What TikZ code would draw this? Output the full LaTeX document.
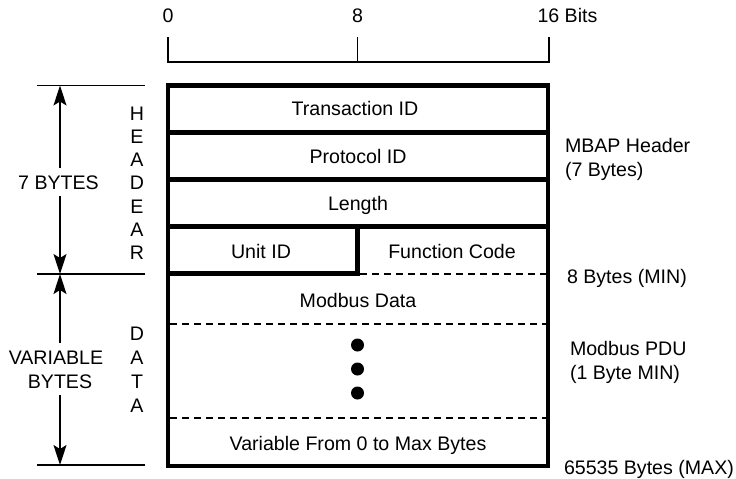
\documentclass[tikz,border=0pt]{standalone}
\usepackage{fontspec}
\setmainfont{Liberation Sans}
\usetikzlibrary{arrows.meta}
\begin{document}
\begin{tikzpicture}[x=1pt,y=-1pt,
  font=\fontsize{19.6}{23}\selectfont,
  lbl/.style={inner sep=0pt, outer sep=0pt, text height=14pt, text depth=0pt},
  heavy/.style={line width=4.5pt, line join=miter},
  hair/.style={line width=1.3pt},
  dashline/.style={line width=1.3pt, dash pattern=on 7pt off 5pt},
  dimarrow/.style={line width=1.3pt, shorten <=7pt, -{Stealth[length=20pt,width=13pt,inset=4pt]}}]
\useasboundingbox (0,0) rectangle (736,479);

% bit ruler
\draw[hair] (168,37) -- (168,62) -- (549,62) -- (549,37);
\draw[hair] (357.5,37) -- (357.5,62);
\node[lbl] (b0) at (168,15) {0};
\node[lbl] (b8) at (357.5,15) {8};
\node[lbl, anchor=west] (b16) at (537.5,15) {16 Bits};

% frame
\draw[heavy] (168,85.5) rectangle (548,466);
\draw[heavy] (168,132.5) -- (548,132.5);
\draw[heavy] (168,179.5) -- (548,179.5);
\draw[heavy] (168,226.5) -- (548,226.5);
\draw[heavy] (168,273.5) -- (357.5,273.5) -- (357.5,226.5);
\draw[dashline] (359.75,274) -- (545.75,274);
\draw[dashline] (170.25,324) -- (545.75,324);
\draw[dashline] (170.25,418) -- (545.75,418);

% field labels
\node[lbl] (tid) at (355,108.5) {Transaction ID};
\node[lbl] (pid) at (358,156) {Protocol ID};
\node[lbl] (len) at (358,203) {Length};
\node[lbl] (uid) at (261,251) {Unit ID};
\node[lbl] (fc)  at (452,251) {Function Code};
\node[lbl] (md)  at (358,300) {Modbus Data};
\node[lbl] (vmx) at (358,443) {Variable From 0 to Max Bytes};

% dots
\fill (357.5,345) circle (6.5pt);
\fill (357.5,369) circle (6.5pt);
\fill (357.5,393) circle (6.5pt);

% left dimension lines
\draw[hair] (37,85.5) -- (145,85.5);
\draw[hair] (37,274) -- (145,274);
\draw[hair] (37,465) -- (145,465);
\coordinate (htop) at (60,85.5);
\coordinate (hmid) at (60,274);
\coordinate (hbot) at (60,465);

\node[lbl] (seven) at (58.5,182) {7 BYTES};
\draw[dimarrow] (seven.north -| htop) -- (htop);
\draw[dimarrow] (seven.south -| htop) -- (hmid);

\node[lbl] (var1) at (56,357) {VARIABLE};
\node[lbl] (var2) at (60,381) {BYTES};
\draw[dimarrow] (var1.north -| hmid) -- (hmid);
\draw[dimarrow] (var2.south -| hmid) -- (hbot);

% vertical words
\foreach \ch [count=\i] in {H,E,A,D,E,A,R}
  \node[lbl] (hd\i) at (137,{113+23.3*(\i-1)}) {\ch};
\foreach \ch [count=\i] in {D,A,T,A}
  \node[lbl] (dt\i) at (137,{333+24*(\i-1)}) {\ch};

% right labels
\node[lbl, anchor=west] (mbap1) at (565,145) {MBAP Header};
\node[lbl, anchor=west] (mbap2) at (565,169) {(7 Bytes)};
\node[lbl, anchor=west] (min8)  at (567,276) {8 Bytes (MIN)};
\node[lbl, anchor=west] (pdu1)  at (570,348) {Modbus PDU};
\node[lbl, anchor=west] (pdu2)  at (570,372) {(1 Byte MIN)};
\node[lbl, anchor=west] (max)   at (564,467) {65535 Bytes (MAX)};
\end{tikzpicture}
\end{document}
